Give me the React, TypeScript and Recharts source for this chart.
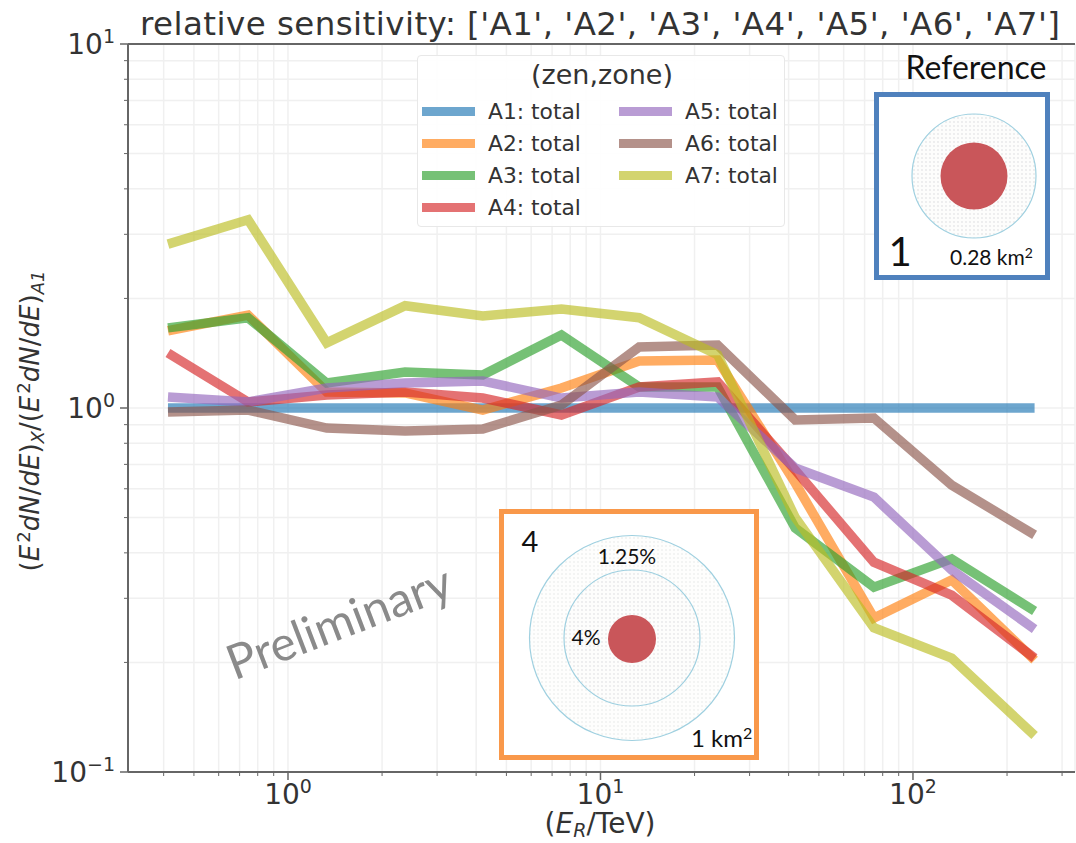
import React from 'react';
import { LineChart, Line, XAxis, YAxis, CartesianGrid, Legend, ReferenceLine } from 'recharts';

const energies = [0.413, 0.745, 1.33, 2.37, 4.2, 7.5, 13.3, 23.7, 42, 75, 133, 245];

const a1 = [1, 1, 1, 1, 1, 1, 1, 1, 1, 1, 1, 1];
const a2 = [1.63, 1.8, 1.107, 1.1, 0.987, 1.135, 1.346, 1.355, 0.622, 0.265, 0.337, 0.203];
const a3 = [1.66, 1.77, 1.171, 1.256, 1.232, 1.587, 1.142, 1.142, 0.468, 0.322, 0.385, 0.277];
const a4 = [1.416, 1.039, 1.086, 1.107, 1.065, 0.957, 1.142, 1.179, 0.675, 0.377, 0.306, 0.2055];
const a5 = [1.072, 1.039, 1.135, 1.171, 1.186, 1.065, 1.107, 1.072, 0.684, 0.569, 0.359, 0.247];
const a6 = [0.975, 0.987, 0.881, 0.865, 0.876, 1.019, 1.471, 1.49, 0.927, 0.939, 0.614, 0.448];
const a7 = [2.82, 3.29, 1.51, 1.91, 1.79, 1.87, 1.77, 1.4, 0.5, 0.249, 0.2055, 0.126];

const seriesNames = ['A1', 'A2', 'A3', 'A4', 'A5', 'A6', 'A7'];
const seriesValues = [a1, a2, a3, a4, a5, a6, a7];
const seriesColors = ['#1f77b4', '#ff7f0e', '#2ca02c', '#d62728', '#9467bd', '#8c564b', '#bcbd22'];

const xTicks = [0.4, 0.5, 0.6, 0.7, 0.8, 0.9, 1, 2, 3, 4, 5, 6, 7, 8, 9, 10, 20, 30, 40, 50, 60, 70, 80, 90, 100, 200, 300];
const yTicks = [0.1, 0.2, 0.3, 0.4, 0.5, 0.6, 0.7, 0.8, 0.9, 1, 2, 3, 4, 5, 6, 7, 8, 9, 10];
const exponents: Record<number, string> = { 0.1: '\u22121', 1: '0', 10: '1', 100: '2' };

const rows = energies.map((energy, i) => {
  const row: Record<string, number> = { energy };
  seriesNames.forEach((name, s) => { row[name] = seriesValues[s][i]; });
  return row;
});

const FONT = '"DejaVu Sans", sans-serif';
const SLIDE_FONT = 'Lato, "Open Sans", sans-serif';
const AXIS = '#666';
const TEXT = '#333';

const XTick = (props: any) => {
  const { x, y, payload } = props;
  const exp = exponents[payload.value];
  return (
    <g>
      <line x1={x} x2={x} y1={y - 8} y2={y + (exp ? 0 : -4)} stroke={AXIS} strokeWidth={exp ? 1.5 : 1} />
      {exp && (
        <text x={x} y={y + 24} textAnchor="middle" fontFamily={FONT} fontSize={28} fill={TEXT}>
          10<tspan dy={-11} fontSize={19}>{exp}</tspan>
        </text>
      )}
    </g>
  );
};

const YTick = (props: any) => {
  const { x, y, payload } = props;
  const exp = exponents[payload.value];
  return (
    <g>
      <line x1={x + (exp ? 0 : 4)} x2={x + 8} y1={y} y2={y} stroke={AXIS} strokeWidth={exp ? 1.5 : 1} />
      {exp && (
        <text x={x - 5} y={y + 10} textAnchor="end" fontFamily={FONT} fontSize={28} fill={TEXT}>
          10<tspan dy={-11} fontSize={19}>{exp}</tspan>
        </text>
      )}
    </g>
  );
};

const LegendBox = (props: any) => (
  <div style={{ boxSizing: 'border-box', width: 368, height: 172, background: 'rgba(255,255,255,0.9)', border: '1px solid #e8e8e8', borderRadius: 4, fontFamily: FONT, color: TEXT }}>
    <div style={{ textAlign: 'center', fontSize: 27, lineHeight: '30px', marginTop: 4, marginLeft: 2 }}>(zen,zone)</div>
    <div style={{ display: 'grid', gridAutoFlow: 'column', gridTemplateRows: 'repeat(4, 32px)', gridTemplateColumns: '197px 1fr', marginTop: 5, paddingLeft: 4 }}>
      {(props.payload || []).map((entry: any) => (
        <div key={entry.value} style={{ display: 'flex', alignItems: 'center', fontSize: 21.8, whiteSpace: 'nowrap' }}>
          <span style={{ width: 53, height: 9, background: entry.color, opacity: 0.65, marginRight: 13 }} />
          {entry.value}
        </div>
      ))}
    </div>
  </div>
);

const Sup = ({ children, size }: any) => (
  <tspan dx={2} dy={-size * 0.35} fontSize={size * 0.7}>{children}</tspan>
);

const EnergyTerm = ({ size }: any) => (
  <>
    <tspan dy={0}>(</tspan>
    <tspan fontStyle="italic">E</tspan>
    <Sup size={size}>2</Sup>
    <tspan dy={size * 0.35} fontStyle="italic">dN</tspan>
    <tspan>/</tspan>
    <tspan fontStyle="italic">dE</tspan>
    <tspan>)</tspan>
  </>
);

const Inset = ({ left, top, width, height, color }: any) => (
  <rect x={left + 2.5} y={top + 2.5} width={width - 5} height={height - 5} fill="#fff" stroke={color} strokeWidth={5} />
);

const Overlay = () => (
  <svg width={1076} height={843} style={{ position: 'absolute', left: 0, top: 0, pointerEvents: 'none' }}>
    <defs>
      <pattern id="dots" width={4} height={4} patternUnits="userSpaceOnUse">
        <rect width={4} height={4} fill="#fefefd" />
        <circle cx={2} cy={2} r={0.7} fill="#e2e3e3" />
      </pattern>
      <pattern id="dotsDense" width={4} height={4} patternUnits="userSpaceOnUse">
        <rect width={4} height={4} fill="#fdfdfc" />
        <circle cx={2} cy={2} r={0.7} fill="#d4d6d8" />
      </pattern>
    </defs>

    <text x={600} y={35} textAnchor="middle" fontFamily={FONT} fontSize={32.5} textLength={920} fill={TEXT}>
      relative sensitivity: ['A1', 'A2', 'A3', 'A4', 'A5', 'A6', 'A7']
    </text>

    <text transform="translate(39,421) rotate(-90)" textAnchor="middle" fontFamily={FONT} fontSize={26} fill={TEXT}>
      <EnergyTerm size={26} />
      <tspan dy={5} fontSize={18} fontStyle="italic">X</tspan>
      <tspan dy={-5}>/</tspan>
      <EnergyTerm size={26} />
      <tspan dy={5} fontSize={18} fontStyle="italic">A1</tspan>
    </text>

    <text x={600} y={833} textAnchor="middle" fontFamily={FONT} fontSize={28} fill={TEXT}>
      <tspan>(</tspan>
      <tspan fontStyle="italic">E</tspan>
      <tspan dy={4} fontSize={19} fontStyle="italic">R</tspan>
      <tspan dy={-4}>/TeV)</tspan>
    </text>

    <text transform="translate(345,638) rotate(-21)" textAnchor="middle" fontFamily={SLIDE_FONT} fontSize={48} fill="#8a8a8a">
      Preliminary
    </text>

    {/* Reference layout */}
    <text x={976} y={79} textAnchor="middle" fontFamily={SLIDE_FONT} fontSize={32} fill="#111">Reference</text>
    <Inset left={874} top={92} width={176} height={188} color="#4f81bd" />
    <circle cx={974} cy={176} r={62} fill="url(#dotsDense)" stroke="#9fd0e0" strokeWidth={1.2} />
    <circle cx={974} cy={176} r={33.5} fill="#c9565a" />
    <text x={900} y={266} textAnchor="middle" fontFamily={SLIDE_FONT} fontSize={40} fill="#111">1</text>
    <text x={950} y={265} fontFamily={SLIDE_FONT} fontSize={21} fill="#111">
      0.28 km<tspan dy={-7} fontSize={14}>2</tspan>
    </text>

    {/* Layout 4 */}
    <Inset left={499} top={509} width={260} height={251} color="#f9984a" />
    <circle cx={632} cy={638} r={102.5} fill="url(#dots)" stroke="#9fd0e0" strokeWidth={1.2} />
    <circle cx={632} cy={638} r={68} fill="url(#dotsDense)" stroke="#9fd0e0" strokeWidth={1.2} />
    <circle cx={632} cy={639} r={24} fill="#c9565a" />
    <text x={530} y={552} textAnchor="middle" fontFamily={SLIDE_FONT} fontSize={29} fill="#111">4</text>
    <text x={627} y={564} textAnchor="middle" fontFamily={SLIDE_FONT} fontSize={21} fill="#111">1.25%</text>
    <text x={586} y={645} textAnchor="middle" fontFamily={SLIDE_FONT} fontSize={21} fill="#111">4%</text>
    <text x={691} y={747} fontFamily={SLIDE_FONT} fontSize={24} fill="#111">
      1 km<tspan dy={-8} fontSize={16}>2</tspan>
    </text>
  </svg>
);

export default function App() {
  return (
    <div style={{ position: 'absolute', left: 0, top: 0, width: 1076, height: 843, background: '#fff' }}>
      <LineChart width={1076} height={843} data={rows} margin={{ top: 44, right: 1, bottom: 0, left: 0 }}>
        <CartesianGrid stroke="#f0f0f0" strokeWidth={1.5} />
        <XAxis
          dataKey="energy"
          type="number"
          scale="log"
          domain={[0.3076, 330]}
          allowDataOverflow
          ticks={xTicks}
          interval={0}
          axisLine={{ stroke: AXIS, strokeWidth: 2 }}
          tickLine={false}
          tick={<XTick />}
          height={71}
        />
        <YAxis
          type="number"
          scale="log"
          domain={[0.1, 10]}
          allowDataOverflow
          ticks={yTicks}
          interval={0}
          axisLine={{ stroke: AXIS, strokeWidth: 2 }}
          tickLine={false}
          tick={<YTick />}
          width={128}
        />
        <ReferenceLine y={10} stroke={AXIS} strokeWidth={2} />
        {seriesNames.map((name, s) => (
          <Line
            key={name}
            dataKey={name}
            name={`${name}: total`}
            stroke={seriesColors[s]}
            strokeOpacity={0.65}
            strokeWidth={9.5}
            strokeLinejoin="miter"
            dot={false}
            activeDot={false}
            isAnimationActive={false}
          />
        ))}
        <Legend
          layout="horizontal"
          verticalAlign="middle"
          content={<LegendBox />}
          wrapperStyle={{ left: 417, top: 55, width: 368, height: 172 }}
        />
      </LineChart>
      <Overlay />
    </div>
  );
}
